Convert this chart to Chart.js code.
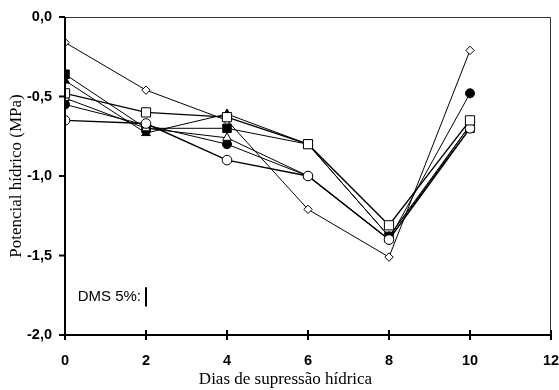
<!DOCTYPE html>
<html>
<head>
<meta charset="utf-8">
<script src="https://cdn.jsdelivr.net/npm/chart.js@4/dist/chart.umd.min.js"></script>
<style>
  html, body { margin: 0; padding: 0; background: #fff; }
  #wrap { width: 559px; height: 390px; }
</style>
</head>
<body>
<div id="wrap"><canvas id="chart" width="559" height="390"></canvas></div>
<script>
// dias de supressão hídrica
const days = [0, 2, 4, 6, 8, 10];

// potencial hídrico (MPa) por tratamento
const openDiamond   = [-0.16, -0.46, -0.65, -1.21, -1.51, -0.21];
const filledSquare  = [-0.36, -0.70, -0.70, -0.80, -1.38, -0.70];
const filledTriangle = [-0.40, -0.73, -0.61, -0.80, -1.38, -0.68];
const openSquare    = [-0.48, -0.60, -0.63, -0.80, -1.31, -0.65];
const openTriangle  = [-0.51, -0.70, -0.76, -1.00, -1.40, -0.68];
const filledCircle  = [-0.55, -0.68, -0.80, -1.00, -1.40, -0.48];
const openCircle    = [-0.65, -0.67, -0.90, -1.00, -1.40, -0.70];

const yTicks = [0, -0.5, -1.0, -1.5, -2.0];
const xTicks = [0, 2, 4, 6, 8, 10, 12];

const xTitle = "Dias de supressão hídrica";
const yTitle = "Potencial hídrico (MPa)";

// DMS 5% (barra desenhada em x = 2)
const dmsX = 2;
const dmsRange = [-1.70, -1.82];

function pts(vals) {
    return days.map((d, i) => ({ x: d, y: vals[i] }));
}

function serie(vals, style, fill, radius, width) {
    return {
        data: pts(vals),
        borderColor: "#000",
        borderWidth: width || 1,
        backgroundColor: fill,
        pointStyle: style,
        pointRadius: radius,
        pointBorderWidth: 1,
        pointBorderColor: "#000",
        pointBackgroundColor: fill,
        tension: 0,
        fill: false
    };
}

// primeiro dataset fica por cima
const datasets = [
    serie(openSquare, "rect", "#fff", 6.5, 1.4),
    serie(openCircle, "circle", "#fff", 4.8, 1.4),
    serie(openDiamond, "rectRot", "#fff", 4.2, 1),
    serie(openTriangle, "triangle", "#fff", 5, 1),
    serie(filledCircle, "circle", "#000", 4.5, 1),
    serie(filledTriangle, "triangle", "#000", 5, 1),
    serie(filledSquare, "rect", "#000", 6, 1)
];

const frame = {
    id: "frame",
    afterDraw(chart) {
        const ctx = chart.ctx;
        const a = chart.chartArea;
        const xs = chart.scales.x, ys = chart.scales.y;
        ctx.save();
        // borda superior e direita
        ctx.lineWidth = 1;
        ctx.strokeStyle = "#333";
        ctx.beginPath();
        ctx.moveTo(a.left, a.top + 0.5);
        ctx.lineTo(a.right - 0.5, a.top + 0.5);
        ctx.lineTo(a.right - 0.5, a.bottom);
        ctx.stroke();
        // eixos
        ctx.strokeStyle = "#000";
        ctx.lineWidth = 2;
        ctx.beginPath();
        ctx.moveTo(a.left, a.top);
        ctx.lineTo(a.left, a.bottom);
        ctx.lineTo(a.right, a.bottom);
        ctx.stroke();
        // marcas
        ctx.beginPath();
        yTicks.forEach(v => {
            const y = ys.getPixelForValue(v);
            ctx.moveTo(a.left - 6, y);
            ctx.lineTo(a.left, y);
        });
        xTicks.forEach(v => {
            const x = xs.getPixelForValue(v);
            ctx.moveTo(x, a.bottom - 5);
            ctx.lineTo(x, a.bottom + 5);
        });
        ctx.stroke();
        // DMS 5%
        const bx = xs.getPixelForValue(dmsX);
        const y1 = ys.getPixelForValue(dmsRange[0]);
        const y2 = ys.getPixelForValue(dmsRange[1]);
        ctx.beginPath();
        ctx.moveTo(bx, y1);
        ctx.lineTo(bx, y2);
        ctx.stroke();
        ctx.fillStyle = "#000";
        ctx.font = "15px Arial, 'Liberation Sans', sans-serif";
        ctx.textAlign = "right";
        ctx.textBaseline = "middle";
        ctx.fillText("DMS 5%:", bx - 5, (y1 + y2) / 2);
        // títulos dos eixos
        ctx.font = "17px 'Times New Roman', 'Liberation Serif', serif";
        ctx.textAlign = "center";
        ctx.fillText(xTitle, chart.width / 2 + 6, chart.height - 10);
        ctx.translate(17, (a.top + a.bottom) / 2);
        ctx.rotate(-Math.PI / 2);
        ctx.fillText(yTitle, 0, 0);
        ctx.restore();
    }
};

new Chart(document.getElementById("chart").getContext("2d"), {
    type: "line",
    data: { datasets: datasets },
    options: {
        responsive: false,
        animation: false,
        events: [],
        layout: { padding: { top: 17, right: 0, left: 0, bottom: 0 } },
        plugins: { legend: { display: false }, tooltip: { enabled: false } },
        scales: {
            x: {
                type: "linear",
                min: 0,
                max: 12,
                afterFit: s => { s.height = 55; s.paddingLeft = 0; s.paddingRight = 8; },
                afterBuildTicks: s => { s.ticks = xTicks.map(v => ({ value: v })); },
                grid: { display: false, drawTicks: false },
                border: { display: false },
                ticks: {
                    padding: 17,
                    color: "#000",
                    font: { family: "Arial, 'Liberation Sans', sans-serif", size: 14.5, weight: "bold" },
                    callback: v => String(v)
                }
            },
            y: {
                type: "linear",
                min: -2,
                max: 0,
                afterFit: s => { s.width = 65; s.paddingTop = 0; s.paddingBottom = 0; },
                afterBuildTicks: s => { s.ticks = yTicks.map(v => ({ value: v })); },
                grid: { display: false, drawTicks: false },
                border: { display: false },
                ticks: {
                    padding: 13,
                    color: "#000",
                    font: { family: "Arial, 'Liberation Sans', sans-serif", size: 14.5, weight: "bold" },
                    callback: v => v.toFixed(1).replace(".", ",")
                }
            }
        }
    },
    plugins: [frame]
});
</script>
</body>
</html>
